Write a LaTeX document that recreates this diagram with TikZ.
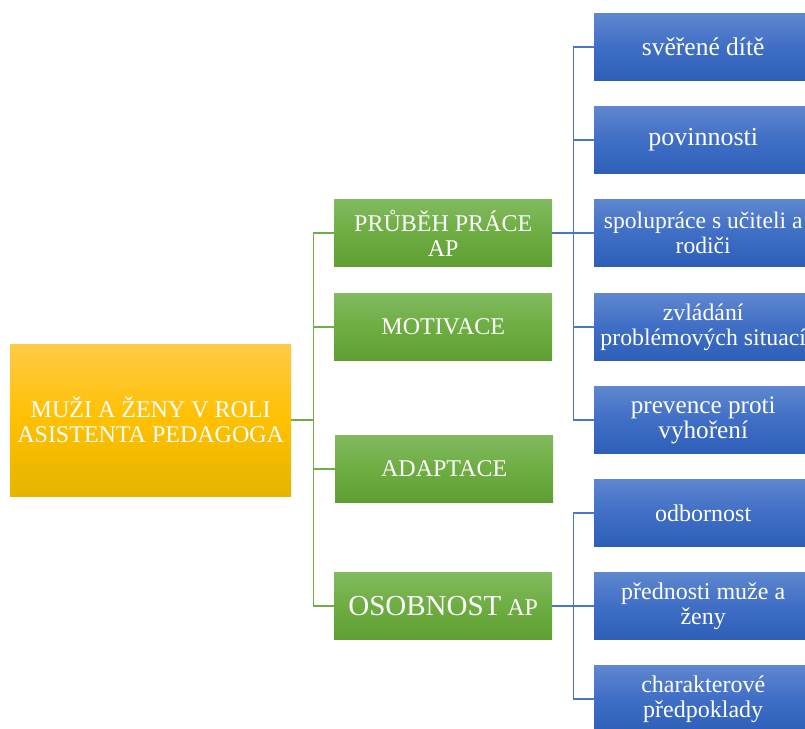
\documentclass[tikz,border=0pt]{standalone}
\usepackage{fontspec}
\setmainfont{Liberation Serif}
\definecolor{rootTop}{HTML}{FFCA48}
\definecolor{rootMid}{HTML}{FFC000}
\definecolor{rootBot}{HTML}{E5B400}
\definecolor{grnTop}{HTML}{82BA60}
\definecolor{grnMid}{HTML}{6DAD42}
\definecolor{grnBot}{HTML}{5F9E32}
\definecolor{bluTop}{HTML}{5F87CF}
\definecolor{bluMid}{HTML}{3F6EC5}
\definecolor{bluBot}{HTML}{2E5FB8}
\definecolor{grnLine}{HTML}{70AD47}
\definecolor{bluLine}{HTML}{4A76C6}
\begin{document}
\begin{tikzpicture}[x=1pt,y=-1pt,
  fs/.style={font=\fontsize{#1}{25}\selectfont},
  card/.style={minimum width=218pt, minimum height=67pt, inner sep=0pt,
    text=white, align=center, anchor=west, fs=24},
  rootbox/.style={card, minimum width=281pt, minimum height=152pt,
    top color=rootTop, bottom color=rootBot, middle color=rootMid},
  grnbox/.style={card, top color=grnTop, bottom color=grnBot, middle color=grnMid},
  blubox/.style={card, top color=bluTop, bottom color=bluBot, middle color=bluMid},
  glink/.style={draw=grnLine, line width=1.4pt},
  blink/.style={draw=bluLine, line width=1.4pt}]
\useasboundingbox (0,0) rectangle (805,728);
\clip (0,0) rectangle (805,728);

% root
\node[rootbox] (root) at (10,420) {MUŽI A ŽENY V ROLI\\ASISTENTA PEDAGOGA};

% second level
\node[grnbox] (prubeh) at (334,233) {PRŮBĚH PRÁCE\\AP};
\node[grnbox] (motiv) at (334,327) {MOTIVACE};
\node[grnbox] (adapt) at (335,469) {ADAPTACE};
\node[grnbox] (osob) at (334,606) {{\fontsize{29}{30}\selectfont OSOBNOST} AP};

% third level, upper branch
\node[blubox, fs=25.5] (dite) at (594,47) {svěřené dítě};
\node[blubox, fs=26] (povin) at (594,140) {povinnosti};
\node[blubox, fs=23.6] (spol) at (594,233) {spolupráce s učiteli a\\rodiči};
\node[blubox, fs=23.8] (zvlad) at (594,327) {zvládání\\problémových situací};
\node[blubox, fs=25.2] (prev) at (594,420) {prevence proti\\vyhoření};

% third level, lower branch
\node[blubox] (odb) at (594,513) {odbornost};
\node[blubox] (pred) at (594,606) {přednosti muže a\\ženy};
\node[blubox] (char) at (594,699) {charakterové\\předpoklady};

% connectors
\foreach \c in {prubeh,motiv,adapt,osob}
  \draw[glink] (root.east) -- ++(22,0) |- (\c.west);
\foreach \c in {dite,povin,spol,zvlad,prev}
  \draw[blink] (prubeh.east) -- ++(21,0) |- (\c.west);
\foreach \c in {odb,pred,char}
  \draw[blink] (osob.east) -- ++(21,0) |- (\c.west);
\end{tikzpicture}
\end{document}
